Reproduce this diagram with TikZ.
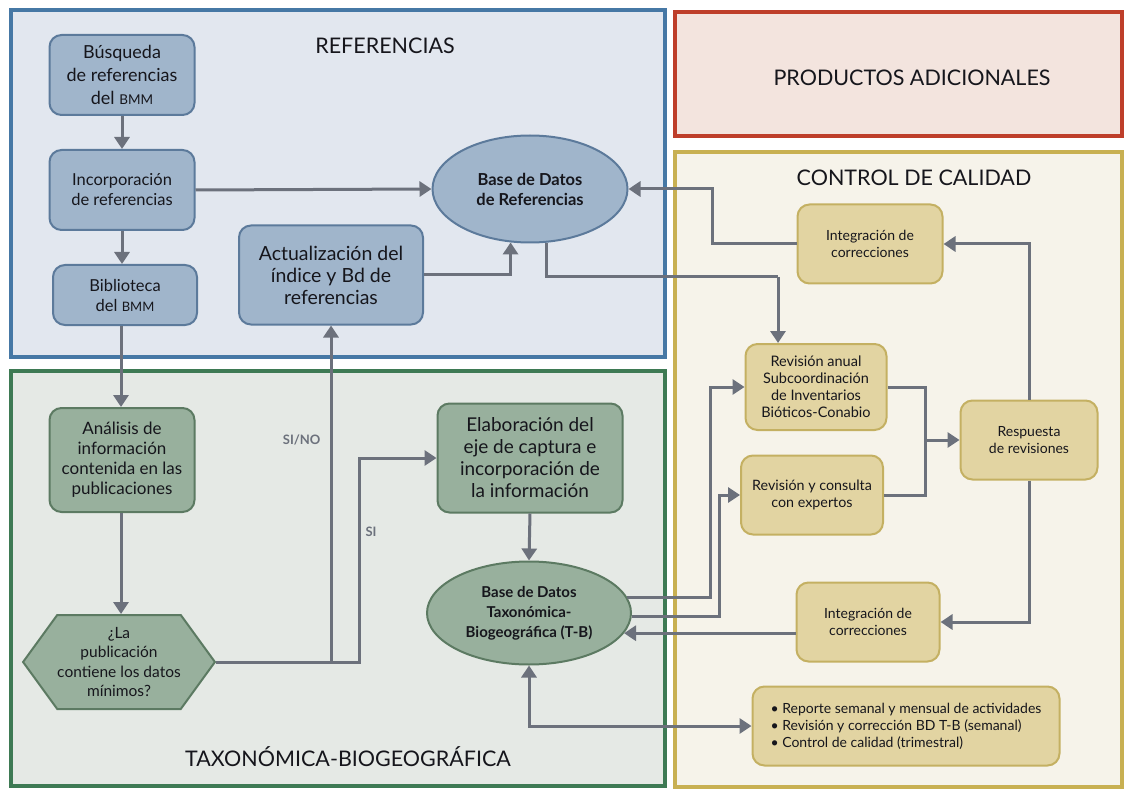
\documentclass[tikz,border=0pt]{standalone}
\usepackage{fontspec}
\setmainfont{Lato}
\usetikzlibrary{arrows.meta,shapes.geometric,shapes.symbols,calc}
\definecolor{bluebd}{RGB}{70,120,165}
\definecolor{bluebg}{RGB}{226,231,239}
\definecolor{bluefill}{RGB}{160,181,203}
\definecolor{bluedraw}{RGB}{92,122,155}
\definecolor{redbd}{RGB}{190,62,42}
\definecolor{redbg}{RGB}{243,228,222}
\definecolor{yelbd}{RGB}{200,176,82}
\definecolor{yelbg}{RGB}{246,243,234}
\definecolor{yelfill}{RGB}{226,212,162}
\definecolor{yeldraw}{RGB}{196,176,98}
\definecolor{grnbd}{RGB}{62,122,84}
\definecolor{grnbg}{RGB}{229,233,229}
\definecolor{grnfill}{RGB}{152,176,157}
\definecolor{grndraw}{RGB}{92,122,98}
\definecolor{arrcol}{RGB}{108,113,124}
\definecolor{txt}{RGB}{22,22,28}
\newcommand{\fs}[2]{\fontsize{#1}{#2}\selectfont}
\tikzset{
  panel/.style={line width=4pt},
  bbox/.style={rectangle, rounded corners=12pt, fill=bluefill, draw=bluedraw, line width=2pt, align=center, inner sep=0pt, text=txt},
  gbox/.style={rectangle, rounded corners=12pt, fill=grnfill, draw=grndraw, line width=2pt, align=center, inner sep=0pt, text=txt},
  ybox/.style={rectangle, rounded corners=12pt, fill=yelfill, draw=yeldraw, line width=2pt, align=center, inner sep=0pt, text=txt},
  title/.style={text=txt, font=\fs{21.5}{26}},
  tip/.style={Triangle[width=15pt,length=12pt]},
  arr/.style={draw=arrcol, line width=3pt, -{Triangle[width=15pt,length=12pt]}},
  dbl/.style={draw=arrcol, line width=3pt, {Triangle[width=15pt,length=12pt]}-{Triangle[width=15pt,length=12pt]}},
  ln/.style={draw=arrcol, line width=3pt},
  lbl/.style={text=arrcol, font=\bfseries\fs{13}{15}},
}
\begin{document}
\begin{tikzpicture}[x=1pt,y=-1pt]
\useasboundingbox (0,0) rectangle (1126,791);
\fill[white] (0,0) rectangle (1126,791);
% panels
\draw[panel, draw=bluebd, fill=bluebg] (11,10) rectangle (665,357);
\draw[panel, draw=redbd, fill=redbg] (675,12) rectangle (1122,136);
\draw[panel, draw=yelbd, fill=yelbg] (675,152) rectangle (1122,787);
\draw[panel, draw=grnbd, fill=grnbg] (11,371) rectangle (665,786);
% titles
\node[title] (tref) at (385,46) {REFERENCIAS};
\node[title] (tprod) at (912,78) {PRODUCTOS ADICIONALES};
\node[title] (tcal) at (914,178) {CONTROL DE CALIDAD};
\node[title] (ttax) at (348,757) {TAXONÓMICA-BIOGEOGRÁFICA};
% referencias nodes
\node[bbox, minimum width=145pt, minimum height=80pt, font=\fs{18}{23}] (busq) at (122,75) {Búsqueda\\de referencias\\del {\fs{13.5}{23}BMM}};
\node[bbox, minimum width=145pt, minimum height=80pt, font=\fs{16.5}{20}] (incorp) at (122,190) {Incorporación\\de referencias};
\node[bbox, minimum width=144pt, minimum height=60pt, font=\fs{16.5}{20}] (biblio) at (125,295) {Biblioteca\\del {\fs{13}{20}BMM}};
\node[bbox, minimum width=184pt, minimum height=99pt, font=\fs{19.5}{22}] (actual) at (331,275) {Actualización del\\índice y Bd de\\referencias};
\node[ellipse, fill=bluefill, draw=bluedraw, line width=2pt, minimum width=195pt, minimum height=107pt, inner sep=0pt, align=center, text=txt, font=\bfseries\fs{16.5}{20}] (bdref) at (530,189) {Base de Datos\\de Referencias};
% taxonomica nodes
\node[gbox, minimum width=145pt, minimum height=104pt, font=\fs{17}{20}] (analisis) at (122,460) {Análisis de\\información\\contenida en las\\publicaciones};
\node[signal, signal to=west and east, signal pointer angle=108, fill=grnfill, draw=grndraw, line width=2pt, minimum width=182pt, minimum height=94pt, inner sep=0pt, align=center, text=txt, font=\fs{15.5}{19.5}] (hexa) at (119,662) {¿La\\publicación\\contiene los datos\\mínimos?};
\node[gbox, minimum width=185pt, minimum height=109pt, font=\fs{19}{22}] (elab) at (530,458) {Elaboración del\\eje de captura e\\incorporación de\\la información};
\node[ellipse, fill=grnfill, draw=grndraw, line width=2pt, minimum width=204pt, minimum height=103pt, inner sep=0pt, align=center, text=txt, font=\bfseries\fs{15}{20}] (bdtb) at (529,613) {Base de Datos\\Taxonómica-\\Biogeográfica (T-B)};
% control de calidad nodes
\node[ybox, minimum width=145pt, minimum height=79pt, font=\fs{14}{17}] (integ1) at (870,244) {Integración de\\correcciones};
\node[ybox, minimum width=141pt, minimum height=86pt, font=\fs{14.5}{17}] (revanual) at (816,387) {Revisión anual\\Subcoordinación\\de Inventarios\\Bióticos-Conabio};
\node[ybox, minimum width=142pt, minimum height=79pt, font=\fs{14.3}{17}] (revcons) at (812,495) {Revisión y consulta\\con expertos};
\node[ybox, minimum width=137pt, minimum height=79pt, font=\fs{14}{17}] (resp) at (1029,440) {Respuesta\\de revisiones};
\node[ybox, minimum width=143pt, minimum height=79pt, font=\fs{14}{17}] (integ2) at (868,622) {Integración de\\correcciones};
\node[ybox, minimum width=307pt, minimum height=79pt, align=left, font=\fs{14}{17}] (bullets) at (906,726) {• Reporte semanal y mensual de actividades\\• Revisión y corrección BD T-B (semanal)\\• Control de calidad (trimestral)};
% connectors referencias
\draw[arr] (busq.south) -- (incorp.north);
\draw[arr] (incorp.south) -- (biblio.north -| incorp.south);
\draw[arr] (incorp.east) -- (bdref.west);
\draw[arr] (actual.east) -| (bdref.250);
\draw[ln] (bdref.287) |- (778,277);
\draw[arr] (778,277) -- (revanual.north -| 778,0);
\draw[arr] (integ1.west) -| (bdref.east -| 712,0) -- (bdref.east);
\draw[arr] (resp.north) |- (integ1.east);
% connectors taxonomica
\draw[arr] (biblio.south -| 121,0) -- (analisis.north -| 121,0);
\draw[arr] (analisis.south -| 121,0) -- (hexa.north -| 121,0);
\draw[arr] (hexa.east) -- (hexa.east -| 359,0) |- (elab.west);
\coordinate (sino) at (actual.south |- hexa.east);
\draw[arr] (sino) -- (actual.south);
\draw[arr] (elab.south) -- (bdtb.north);
\node[lbl, anchor=east] (lsino) at (324,440) {SI/NO};
\node[lbl, anchor=west] (lsi) at (362,532) {SI};
% connectors calidad
\draw[arr] (bdtb.9) -- (bdtb.9 -| 710,0) |- (revanual.west);
\draw[arr] (bdtb.-2) -- (bdtb.-2 -| 719,0) |- (revcons.west);
\draw[ln] (revanual.east) -- (revanual.east -| 925,0) -- (revcons.east -| 925,0) -- (revcons.east);
\draw[arr] (resp.west -| 925,0) -- (resp.west);
\draw[arr] (resp.south) |- (integ2.east);
\draw[arr] (integ2.west |- bdtb.-12) -- (bdtb.-12);
\draw[dbl] (bdtb.south) |- (bullets.west);
\end{tikzpicture}
\end{document}
